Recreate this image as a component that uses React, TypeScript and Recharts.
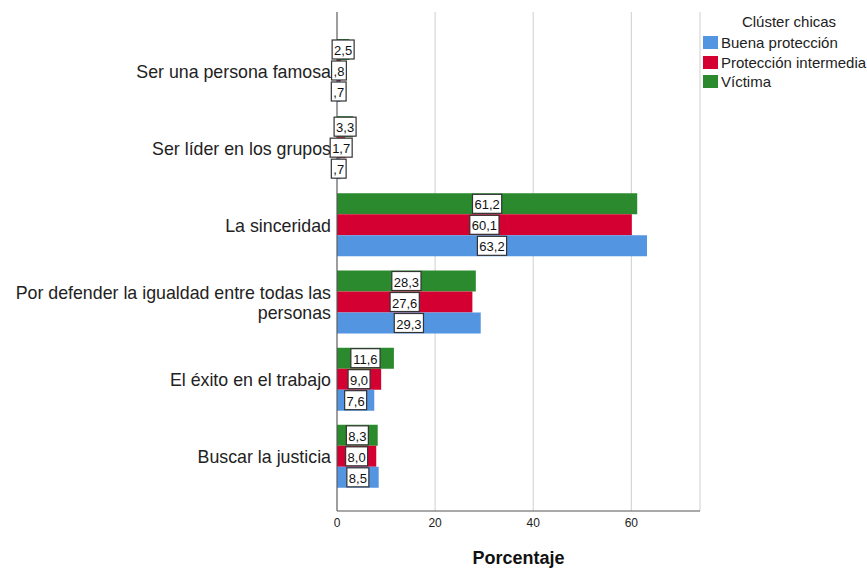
import { BarChart, Bar, XAxis, YAxis, CartesianGrid, LabelList } from 'recharts';

const categories = [
  'Ser una persona famosa',
  'Ser líder en los grupos',
  'La sinceridad',
  'Por defender la igualdad entre todas las|personas',
  'El éxito en el trabajo',
  'Buscar la justicia',
];
const victima = [2.5, 3.3, 61.2, 28.3, 11.6, 8.3];
const intermedia = [0.8, 1.7, 60.1, 27.6, 9.0, 8.0];
const buena = [0.7, 0.7, 63.2, 29.3, 7.6, 8.5];
const xTicks = [0, 20, 40, 60];

const series = [
  { key: 'buena', name: 'Buena protección', color: '#5495E2' },
  { key: 'intermedia', name: 'Protección intermedia', color: '#D50032' },
  { key: 'victima', name: 'Víctima', color: '#2A8A2D' },
];

const data = categories.map((name, i) => ({
  name,
  victima: victima[i],
  intermedia: intermedia[i],
  buena: buena[i],
}));

const FONT = '"Liberation Sans", Arial, sans-serif';

// SPSS style: comma decimal, no leading zero
const fmt = (v: number) => v.toFixed(1).replace('.', ',').replace(/^0,/, ',');

function BoxLabel(props: any) {
  const { x, y, width, height, value } = props;
  const txt = fmt(Number(value));
  const commas = (txt.match(/,/g) || []).length;
  const w = (txt.length - commas) * 7.2 + commas * 3.6 + 4;
  const h = 19;
  const cx = x + width / 2;
  const cy = y + height / 2;
  return (
    <g>
      <rect x={cx - w / 2} y={cy - h / 2} width={w} height={h} fill="#fff" stroke="#333" strokeWidth={1.2} />
      <text x={cx} y={cy + 1} textAnchor="middle" dominantBaseline="central" fontSize={13} fontFamily={FONT} fill="#111">
        {txt}
      </text>
    </g>
  );
}

function CatTick(props: any) {
  const { x, y, payload } = props;
  const lines = String(payload.value).split('|');
  const lh = 20;
  const start = -((lines.length - 1) * lh) / 2;
  return (
    <text x={x + 2} y={y} textAnchor="end" fontSize={17.8} fontFamily={FONT} fill="#222">
      {lines.map((l, i) => (
        <tspan key={i} x={x + 2} y={y + start + i * lh + 1} dominantBaseline="central">
          {l}
        </tspan>
      ))}
    </text>
  );
}

function LegendBox() {
  return (
    <div style={{ position: 'absolute', left: 703, top: 13, fontFamily: FONT, fontSize: 15, color: '#222', width: 164 }}>
      <div style={{ textAlign: 'center', paddingLeft: 8, height: 20 }}>Clúster chicas</div>
      {series.map((s) => (
        <div key={s.key} style={{ display: 'flex', alignItems: 'center', height: 19.5, whiteSpace: 'nowrap' }}>
          <span style={{ width: 15, height: 13, background: s.color, marginRight: 3, display: 'inline-block', flex: 'none' }} />
          <span>{s.name}</span>
        </div>
      ))}
    </div>
  );
}

export default function App() {
  return (
    <div style={{ position: 'absolute', left: 0, top: 0, width: 867, height: 569, background: '#fff' }}>
      <BarChart
        width={867}
        height={569}
        data={data}
        layout="vertical"
        margin={{ top: 12, right: 167, bottom: 28, left: 0 }}
        barCategoryGap={7}
        barGap={0}
      >
        <CartesianGrid horizontal={false} stroke="#cfcfcf" />
        <XAxis
          type="number"
          domain={[0, 74]}
          ticks={xTicks}
          height={30}
          axisLine={{ stroke: '#555' }}
          tickLine={false}
          tickSize={5}
          tick={{ fontSize: 12, fill: '#222', fontFamily: FONT }}
          label={{
            value: 'Porcentaje',
            position: 'insideBottom',
            offset: -23,
            style: { fontSize: 18, fontWeight: 'bold', fill: '#111', fontFamily: FONT },
          }}
        />
        <YAxis
          type="category"
          dataKey="name"
          width={337}
          axisLine={{ stroke: '#555' }}
          tickLine={false}
          tick={<CatTick />}
          padding={{ top: 20, bottom: 16 }}
          interval={0}
        />
        <Bar dataKey="victima" name="Víctima" fill="#2A8A2D" isAnimationActive={false}>
          <LabelList dataKey="victima" content={<BoxLabel />} />
        </Bar>
        <Bar dataKey="intermedia" name="Protección intermedia" fill="#D50032" isAnimationActive={false}>
          <LabelList dataKey="intermedia" content={<BoxLabel />} />
        </Bar>
        <Bar dataKey="buena" name="Buena protección" fill="#5495E2" isAnimationActive={false}>
          <LabelList dataKey="buena" content={<BoxLabel />} />
        </Bar>
      </BarChart>
      <LegendBox />
    </div>
  );
}
